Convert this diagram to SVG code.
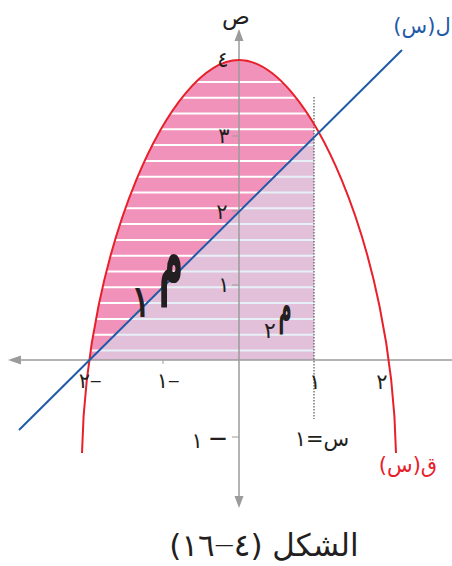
<svg xmlns="http://www.w3.org/2000/svg" width="452" height="566" viewBox="0 0 452 566">
<style>
text{font-family:"DejaVu Sans","Noto Sans",sans-serif;fill:#231f20}
.ar{direction:rtl;unicode-bidi:embed}
.vis{direction:ltr;unicode-bidi:bidi-override}
.tick{font-size:21px}
.dash{font-weight:bold;font-size:11px}
.dashl{font-weight:bold;font-size:17px}
.axis{stroke:#9b9b9b;stroke-width:1.5;fill:none}
.tk{stroke:#9b9b9b;stroke-width:1}
.s1{stroke:#ffffff;stroke-width:2}
.s2{stroke:#e6f1f7;stroke-width:2}
</style>
<defs>
<clipPath id="parab"><path d="M82,453 C86,250 170,60 239,60 C308,60 392,250 396,453 Z"/></clipPath>
<clipPath id="tri"><polygon points="89,360.5 314,137 314,360"/></clipPath>
<g id="stripes">
<line x1="60" y1="81.9" x2="314" y2="81.9"/>
<line x1="60" y1="97.7" x2="314" y2="97.7"/>
<line x1="60" y1="113.5" x2="314" y2="113.5"/>
<line x1="60" y1="129.3" x2="314" y2="129.3"/>
<line x1="60" y1="145.1" x2="314" y2="145.1"/>
<line x1="60" y1="160.9" x2="314" y2="160.9"/>
<line x1="60" y1="176.7" x2="314" y2="176.7"/>
<line x1="60" y1="192.5" x2="314" y2="192.5"/>
<line x1="60" y1="208.3" x2="314" y2="208.3"/>
<line x1="60" y1="224.1" x2="314" y2="224.1"/>
<line x1="60" y1="239.9" x2="314" y2="239.9"/>
<line x1="60" y1="255.7" x2="314" y2="255.7"/>
<line x1="60" y1="271.5" x2="314" y2="271.5"/>
<line x1="60" y1="287.3" x2="314" y2="287.3"/>
<line x1="60" y1="303.1" x2="314" y2="303.1"/>
<line x1="60" y1="318.9" x2="314" y2="318.9"/>
<line x1="60" y1="334.7" x2="314" y2="334.7"/>
<line x1="60" y1="350.5" x2="314" y2="350.5"/>
</g>
</defs>

<g id="region-m1" clip-path="url(#parab)">
<rect x="60" y="55" width="254" height="305" fill="#f192ba"/>
<use href="#stripes" class="s1"/>
</g>
<g id="region-m2" clip-path="url(#tri)">
<rect x="80" y="130" width="234" height="230" fill="#e2c0d9"/>
<use href="#stripes" class="s2"/>
</g>

<g id="axes">
<line class="axis" x1="18" y1="360" x2="452" y2="360"/>
<polygon points="8,360 21,355.5 21,364.5" fill="#9b9b9b"/>
<line class="axis" x1="239" y1="40" x2="239" y2="497"/>
<polygon points="239,29 234.5,41 243.5,41" fill="#9b9b9b"/>
<polygon points="239,508 234.5,496 243.5,496" fill="#9b9b9b"/>
<line class="tk" x1="232" y1="136" x2="239" y2="136"/>
<line class="tk" x1="232" y1="211" x2="239" y2="211"/>
<line class="tk" x1="232" y1="285" x2="239" y2="285"/>
<line class="tk" x1="232" y1="437" x2="239" y2="437"/>
<line class="tk" x1="163" y1="360" x2="163" y2="364"/>
</g>

<g id="connectors">
<line id="x-eq-1" x1="314" y1="97" x2="314" y2="419" stroke="#555" stroke-width="1.2" stroke-dasharray="1.5,1.5"/>
<path id="curve-q" d="M82,453 C86,250 170,60 239,60 C308,60 392,250 396,453" fill="none" stroke="#e8202a" stroke-width="2"/>
<line id="line-l" x1="19" y1="430" x2="402" y2="50" stroke="#1f5aa8" stroke-width="2"/>
</g>

<g id="labels">
<text class="ar" x="236" y="24" font-size="23" text-anchor="middle">ص</text>
<text class="ar" x="422" y="33" font-size="21" text-anchor="middle" style="fill:#1f5aa8">ل(س)</text>
<text class="tick" x="223" y="67" text-anchor="middle">٤</text>
<text class="tick" x="224" y="143" text-anchor="middle">٣</text>
<text class="tick" x="222" y="219" text-anchor="middle">٢</text>
<text class="tick" x="224" y="292" text-anchor="middle">١</text>
<text class="tick vis" x="90" y="388" text-anchor="middle">٢<tspan class="dash" dy="-3">—</tspan></text>
<text class="tick vis" x="168" y="388" text-anchor="middle">١<tspan class="dash" dy="-3">—</tspan></text>
<text class="tick" x="315" y="389" text-anchor="middle">١</text>
<text class="tick" x="382" y="389" text-anchor="middle">٢</text>
<text class="tick vis" x="209" y="448" text-anchor="middle">١ <tspan class="dashl" dy="-4">—</tspan></text>
<text class="ar" x="322" y="446" font-size="21" text-anchor="middle">س=١</text>
<text class="ar" x="408" y="472" font-size="21" text-anchor="middle" style="fill:#e8202a">ق(س)</text>
<text transform="translate(171,286) scale(0.75,2)" font-size="44" font-weight="bold" text-anchor="middle">م</text>
<text x="141" y="317" font-size="46" text-anchor="middle">١</text>
<text transform="translate(285,323) scale(0.75,2)" font-size="24" font-weight="bold" text-anchor="middle">م</text>
<text x="270" y="338" font-size="22" text-anchor="middle">٢</text>
<text class="ar" x="264" y="556" font-size="31" text-anchor="middle">الشكل (٤<tspan font-size="19" dy="-5">—</tspan><tspan dy="5">١٦)</tspan></text>
</g>
</svg>
